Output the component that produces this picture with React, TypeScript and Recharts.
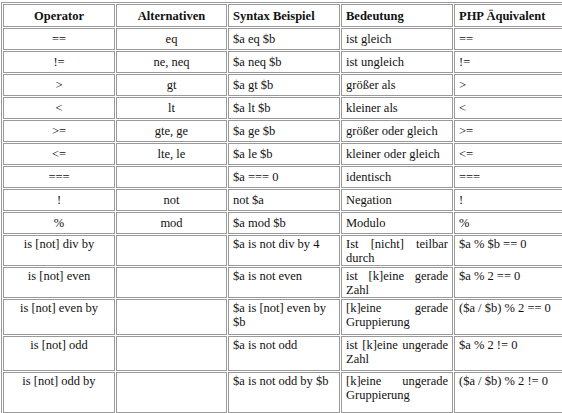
import React from "react";
import { Surface } from "recharts";

const headers = ["Operator", "Alternativen", "Syntax Beispiel", "Bedeutung", "PHP Äquivalent"];
const operators = ["==", "!=", ">", "<", ">=", "<=", "===", "!", "%", "is [not] div by", "is [not] even", "is [not] even by", "is [not] odd", "is [not] odd by"];
const alternatives = ["eq", "ne, neq", "gt", "lt", "gte, ge", "lte, le", "", "not", "mod", "", "", "", "", ""];
const syntax = ["$a eq $b", "$a neq $b", "$a gt $b", "$a lt $b", "$a ge $b", "$a le $b", "$a === 0", "not $a", "$a mod $b", "$a is not div by 4", "$a is not even", "$a is [not] even by $b", "$a is not odd", "$a is not odd by $b"];
const meaning = ["ist gleich", "ist ungleich", "größer als", "kleiner als", "größer oder gleich", "kleiner oder gleich", "identisch", "Negation", "Modulo", "Ist [nicht] teilbar durch", "ist [k]eine gerade Zahl", "[k]eine gerade Gruppierung", "ist [k]eine ungerade Zahl", "[k]eine ungerade Gruppierung"];
const php = ["==", "!=", ">", "<", ">=", "<=", "===", "!", "%", "$a % $b == 0", "$a % 2 == 0", "($a / $b) % 2 == 0", "$a % 2 != 0", "($a / $b) % 2 != 0"];
const rowHeights = [22, 22, 22, 22, 22, 22, 22, 22, 22, 30, 31, 36, 35, 41];
const colWidths = [112, 111, 112, 112, 111];

const border = "1px solid #9a9a9a";

export default function App() {
  const cell = (i: number): React.CSSProperties => ({
    border,
    padding: "0px 4px",
    verticalAlign: "top",
    textAlign: i < 2 ? "center" : i === 3 ? "justify" : "left",
    textAlignLast: i < 2 ? "center" : "left",
    lineHeight: "14px",
    overflow: "hidden",
  });
  return (
    <div style={{ position: "absolute", left: 1, top: 2, width: 560, fontFamily: "'Liberation Serif', serif", fontSize: 12.5, color: "#111" }}>
      <Surface width={0} height={0} style={{ position: "absolute" }} />
      <table style={{ borderCollapse: "separate", borderSpacing: 1, tableLayout: "fixed", width: 560, border }}>
        <colgroup>
          {colWidths.map((w, i) => <col key={i} style={{ width: w }} />)}
        </colgroup>
        <thead>
          <tr style={{ height: 23 }}>
            {headers.map((h, i) => (
              <th key={i} style={{ ...cell(i), textAlign: i < 2 ? "center" : "left", fontWeight: "bold", verticalAlign: "middle" }}>{h}</th>
            ))}
          </tr>
        </thead>
        <tbody>
          {operators.map((op, r) => (
            <tr key={r} style={{ height: rowHeights[r] }}>
              {[op, alternatives[r], syntax[r], meaning[r], php[r]].map((t, i) => (
                <td key={i} style={{ ...cell(i), paddingTop: r < 9 ? 3 : 1 }}>{t}</td>
              ))}
            </tr>
          ))}
        </tbody>
      </table>
    </div>
  );
}
